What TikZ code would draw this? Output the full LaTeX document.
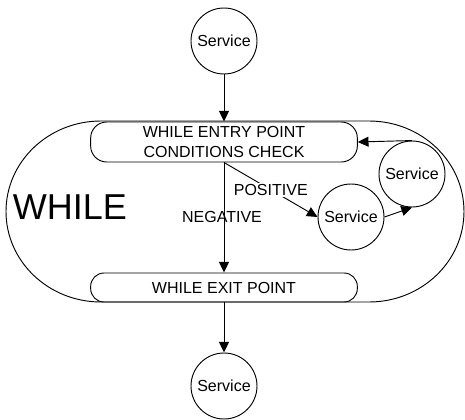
\documentclass[tikz,border=0pt]{standalone}
\usepackage{fontspec}
\setmainfont{Liberation Sans}
\usetikzlibrary{arrows.meta}
\begin{document}
\begin{tikzpicture}[x=0.75pt,y=0.75pt,
  line width=0.7pt,
  txt/.style={font=\fontsize{12}{14.5}\selectfont},
  service/.style={draw, circle, minimum size=49.5pt, inner sep=0pt, txt},
  pointbox/.style={draw, rounded corners=12pt, minimum width=200pt, inner sep=0pt, align=center, txt},
  flow/.style={-{Triangle[length=8pt,width=7.5pt]}}
]
\useasboundingbox (0,0) rectangle (465,419);

% loop boundary
\draw (101,298) -- (369,298)
  arc[start angle=90, end angle=-90, x radius=95, y radius=90.5]
  -- (101,117)
  arc[start angle=270, end angle=90, x radius=95, y radius=90.5] -- cycle;
\node[font=\fontsize{27}{30}\selectfont] (while) at (70,212) {WHILE};

% nodes
\node[service] (top) at (224,378) {Service};
\node[pointbox, minimum height=30pt] (entry) at (224,277) {WHILE ENTRY POINT\\CONDITIONS CHECK};
\node[pointbox, minimum height=21.75pt, rounded corners=10pt] (exit) at (224,131.5) {WHILE EXIT POINT};
\node[service] (body1) at (351,202) {Service};
\node[service] (body2) at (412,245) {Service};
\node[service] (bottom) at (224,33) {Service};

% connectors
\draw[flow] (top) -- (entry);
\draw[flow] (entry) -- (exit);
\node[txt] (neg) at (222,202) {NEGATIVE};
\draw[flow] (entry.south) -- node[txt, fill=white, inner sep=1pt] (pos) {POSITIVE} (body1.west);
\draw[flow] (body1.east) -- (body2.south);
\draw[flow] (body2.north) -- (entry.east);
\draw[flow] (exit) -- (bottom);
\end{tikzpicture}
\end{document}
